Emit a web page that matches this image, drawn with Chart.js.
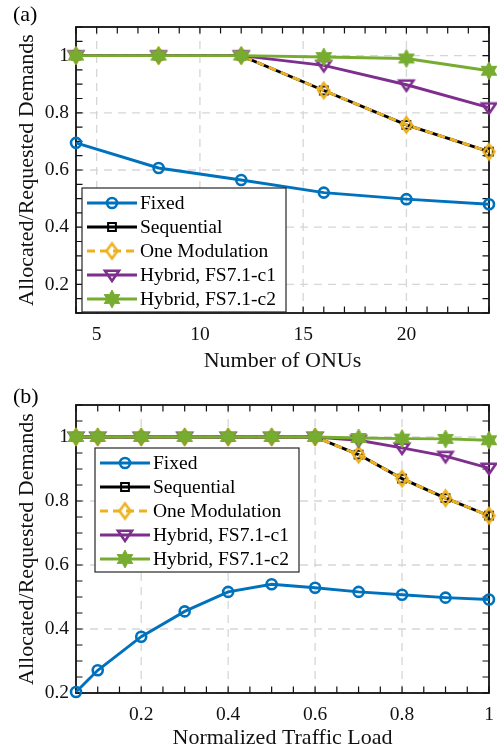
<!DOCTYPE html>
<html>
<head>
<meta charset="utf-8">
<script src="https://cdn.jsdelivr.net/npm/chart.js@4.4.0/dist/chart.umd.min.js"></script>
<style>
  body { margin: 0; background: #fff; }
  canvas { display: block; }
</style>
</head>
<body>
<canvas id="chartA" width="497" height="377"></canvas>
<canvas id="chartB" width="497" height="377"></canvas>
<script>
// Panel (a): demands vs number of ONUs
const onus = [4, 8, 12, 16, 20, 24];
const fixedA = [0.695, 0.607, 0.565, 0.521, 0.498, 0.480];
const sequentialA = [1, 1, 1, 0.878, 0.758, 0.664];
const oneModA = [1, 1, 1, 0.878, 0.758, 0.664];
const hybridC1A = [1, 1, 1, 0.966, 0.898, 0.818];
const hybridC2A = [1, 1, 1, 0.995, 0.990, 0.947];

// Panel (b): demands vs normalized traffic load
const loads = [0.05, 0.1, 0.2, 0.3, 0.4, 0.5, 0.6, 0.7, 0.8, 0.9, 1];
const fixedB = [0.203, 0.271, 0.376, 0.455, 0.516, 0.540, 0.529, 0.516, 0.507, 0.498, 0.492];
const sequentialB = [1, 1, 1, 1, 1, 1, 1, 0.945, 0.870, 0.809, 0.754];
const oneModB = [1, 1, 1, 1, 1, 1, 1, 0.945, 0.870, 0.809, 0.754];
const hybridC1B = [1, 1, 1, 1, 1, 1, 1, 0.990, 0.966, 0.940, 0.903];
const hybridC2B = [1, 1, 1, 1, 1, 1, 1, 0.997, 0.995, 0.994, 0.990];

const seriesNames = ['Fixed', 'Sequential', 'One Modulation', 'Hybrid, FS7.1-c1', 'Hybrid, FS7.1-c2'];

const xTicksA = [5, 10, 15, 20];
const xTicksB = [0.2, 0.4, 0.6, 0.8, 1];
const yTicks = [0.2, 0.4, 0.6, 0.8, 1];

const SERIF = '"Liberation Serif", "Times New Roman", serif';
const colors = ['#0072BD', '#000000', '#EDB120', '#7E2F8E', '#77AC30'];

// small canvases used as marker images
function polyMarker(w, h, pts, stroke, fill, lw) {
    const c = document.createElement('canvas');
    c.width = Math.ceil(w + lw * 2 + 2);
    c.height = Math.ceil(h + lw * 2 + 2);
    const g = c.getContext('2d');
    g.translate(c.width / 2, c.height / 2);
    g.beginPath();
    pts.forEach((p, i) => {
        const px = p[0] * w / 2, py = p[1] * h / 2;
        if (i === 0) g.moveTo(px, py); else g.lineTo(px, py);
    });
    g.closePath();
    g.lineJoin = 'miter';
    if (fill) { g.fillStyle = fill; g.fill(); }
    g.lineWidth = lw;
    g.strokeStyle = stroke;
    g.stroke();
    return c;
}

const diamondPts = [[0, -1], [1, 0], [0, 1], [-1, 0]];
const triDownPts = [[-1, -0.7], [1, -0.7], [0, 1]];
const hexPts = [];
for (let k = 0; k < 12; k++) {
    const a = -Math.PI / 2 + k * Math.PI / 6;
    const r = k % 2 === 0 ? 1 : 0.56;
    hexPts.push([Math.cos(a) * r, Math.sin(a) * r]);
}

const diamondImg = polyMarker(11, 15, diamondPts, colors[2], null, 2.6);
const triangleImg = polyMarker(14, 12, triDownPts, colors[3], null, 2.6);
const hexImg = polyMarker(18, 18, hexPts, colors[4], colors[4], 1);

function buildDatasets(fixed, seq, oneMod, c1, c2) {
    const values = [fixed, seq, oneMod, c1, c2];
    const styles = [
        { pointStyle: 'circle', pointRadius: 5, pointBorderWidth: 2.6 },
        { pointStyle: 'rect', pointRadius: 5.5, pointBorderWidth: 2 },
        { pointStyle: diamondImg, pointRadius: 7, pointBorderWidth: 0, borderDash: [8, 5] },
        { pointStyle: triangleImg, pointRadius: 7, pointBorderWidth: 0 },
        { pointStyle: hexImg, pointRadius: 8, pointBorderWidth: 0 }
    ];
    return values.map((vals, i) => Object.assign({
        label: seriesNames[i],
        data: vals,
        borderColor: colors[i],
        pointBorderColor: colors[i],
        pointBackgroundColor: 'rgba(0,0,0,0)',
        borderWidth: 2.9,
        tension: 0,
        clip: false,
        order: 5 - i
    }, styles[i]));
}

// grid, frame and inward ticks, MATLAB style
const framePlugin = {
    id: 'frame',
    beforeDatasetsDraw(chart, args, opts) {
        const { ctx, chartArea: a, scales: { x, y } } = chart;
        ctx.save();
        ctx.strokeStyle = '#d6d6d6';
        ctx.lineWidth = 1.3;
        ctx.setLineDash([8, 6]);
        opts.xTicks.forEach(v => {
            const px = x.getPixelForValue(v);
            ctx.beginPath(); ctx.moveTo(px, a.top); ctx.lineTo(px, a.bottom); ctx.stroke();
        });
        opts.yTicks.forEach(v => {
            const py = y.getPixelForValue(v);
            ctx.beginPath(); ctx.moveTo(a.left, py); ctx.lineTo(a.right, py); ctx.stroke();
        });
        ctx.setLineDash([]);
        ctx.strokeStyle = '#111';
        ctx.lineWidth = 1.2;
        const tl = 6.5;
        for (let v = x.min; v <= x.max + 1e-9; v += opts.xStep) {
            const px = x.getPixelForValue(v);
            ctx.beginPath();
            ctx.moveTo(px, a.bottom); ctx.lineTo(px, a.bottom - tl);
            ctx.moveTo(px, a.top); ctx.lineTo(px, a.top + tl);
            ctx.stroke();
        }
        for (let v = y.min; v <= y.max + 1e-9; v += opts.yStep) {
            const py = y.getPixelForValue(v);
            ctx.beginPath();
            ctx.moveTo(a.left, py); ctx.lineTo(a.left + tl, py);
            ctx.moveTo(a.right, py); ctx.lineTo(a.right - tl, py);
            ctx.stroke();
        }
        ctx.lineWidth = 1.8;
        ctx.strokeRect(a.left, a.top, a.right - a.left, a.bottom - a.top);
        ctx.fillStyle = '#000';
        ctx.font = '22px ' + SERIF;
        ctx.textBaseline = 'middle';
        ctx.fillText(opts.label, 13, opts.labelY);
        ctx.restore();
    }
};

// legend drawn inside the axes
const boxLegend = {
    id: 'boxLegend',
    afterDatasetsDraw(chart, args, opts) {
        const { ctx } = chart;
        const x0 = opts.left, y0 = opts.top;
        ctx.save();
        ctx.fillStyle = '#fff';
        ctx.fillRect(x0, y0, 204, 124);
        ctx.strokeStyle = '#262626';
        ctx.lineWidth = 1.2;
        ctx.strokeRect(x0, y0, 204, 124);
        chart.data.datasets.forEach((ds, i) => {
            const yy = y0 + 15 + i * 24;
            ctx.strokeStyle = ds.borderColor;
            ctx.lineWidth = ds.borderWidth;
            ctx.setLineDash(ds.borderDash || []);
            ctx.beginPath(); ctx.moveTo(x0 + 5, yy); ctx.lineTo(x0 + 55, yy); ctx.stroke();
            ctx.setLineDash([]);
            ctx.fillStyle = ds.pointBackgroundColor;
            ctx.strokeStyle = ds.pointBorderColor;
            ctx.lineWidth = ds.pointBorderWidth;
            Chart.helpers.drawPoint(ctx, {
                pointStyle: ds.pointStyle, radius: ds.pointRadius,
                rotation: 0, borderWidth: ds.pointBorderWidth
            }, x0 + 30, yy);
            ctx.fillStyle = '#000';
            ctx.font = '19.5px ' + SERIF;
            ctx.textBaseline = 'middle';
            ctx.fillText(ds.label, x0 + 58, yy + 1);
        });
        ctx.restore();
    }
};

function makeChart(id, cfg) {
    const tickFont = { family: SERIF, size: 19.5 };
    new Chart(document.getElementById(id), {
        type: 'line',
        data: { datasets: cfg.datasets },
        plugins: [framePlugin, boxLegend],
        options: {
            responsive: false,
            animation: false,
            devicePixelRatio: 1,
            layout: { padding: { left: 0, right: 5, top: cfg.top, bottom: 0 } },
            plugins: {
                legend: { display: false },
                tooltip: { enabled: false },
                frame: { xTicks: cfg.xTicks, yTicks: yTicks, xStep: cfg.xStep, yStep: 0.05, label: cfg.label, labelY: cfg.labelY },
                boxLegend: { left: cfg.legendLeft, top: cfg.legendTop }
            },
            scales: {
                x: {
                    type: 'linear',
                    min: cfg.xMin, max: cfg.xMax,
                    afterBuildTicks: s => { s.ticks = cfg.xTicks.map(v => ({ value: v })); },
                    afterFit: s => { s.height = cfg.xHeight; s.paddingLeft = 0; s.paddingRight = 0; },
                    grid: { display: false, drawTicks: false },
                    border: { display: false },
                    ticks: { font: tickFont, color: '#111', padding: 10, maxRotation: 0, autoSkip: false, callback: v => String(v) },
                    title: { display: true, text: cfg.xTitle, font: { family: SERIF, size: 22 }, color: '#111', padding: { top: 0, bottom: 3 } }
                },
                y: {
                    min: cfg.yMin, max: 1.1,
                    afterBuildTicks: s => { s.ticks = yTicks.map(v => ({ value: v })); },
                    afterFit: s => { s.width = 76; s.paddingTop = 0; s.paddingBottom = 0; },
                    grid: { display: false, drawTicks: false },
                    border: { display: false },
                    ticks: { font: tickFont, color: '#111', padding: 7, autoSkip: false, callback: v => String(v) },
                    title: { display: true, text: 'Allocated/Requested Demands', font: { family: SERIF, size: 22 }, color: '#111', padding: { top: 14, bottom: 0 } }
                }
            }
        }
    });
}

function toPoints(xs, ys) { return ys.map((v, i) => ({ x: xs[i], y: v })); }

const dsA = buildDatasets(fixedA, sequentialA, oneModA, hybridC1A, hybridC2A);
dsA.forEach(d => { d.data = toPoints(onus, d.data); });
makeChart('chartA', {
    datasets: dsA, top: 27, xHeight: 64, xMin: 4, xMax: 24, yMin: 0.1, xStep: 1,
    xTicks: xTicksA, xTitle: 'Number of ONUs', label: '(a)', labelY: 15,
    legendLeft: 82, legendTop: 188
});

const dsB = buildDatasets(fixedB, sequentialB, oneModB, hybridC1B, hybridC2B);
dsB.forEach(d => { d.data = toPoints(loads, d.data); });
makeChart('chartB', {
    datasets: dsB, top: 28, xHeight: 61, xMin: 0.05, xMax: 1, yMin: 0.2, xStep: 0.05,
    xTicks: xTicksB, xTitle: 'Normalized Traffic Load', label: '(b)', labelY: 20,
    legendLeft: 95, legendTop: 71
});
</script>
</body>
</html>
